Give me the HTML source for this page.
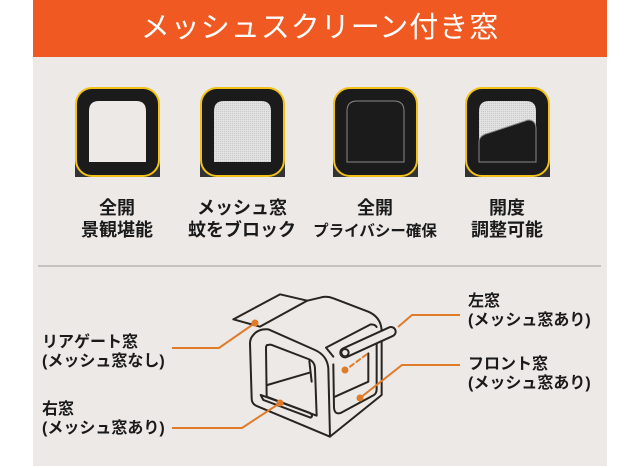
<!DOCTYPE html>
<html><head><meta charset="utf-8"><style>
html,body{margin:0;padding:0;background:#fff;}
body{width:640px;height:468px;position:relative;overflow:hidden;font-family:"Liberation Sans","Noto Sans CJK JP",sans-serif;}
.panel{position:absolute;left:33px;top:0;width:574px;height:466px;background:#ede9e6;}
.hdr{position:absolute;left:33px;top:0;width:574px;height:57px;background:#f05a22;color:#fff;font-size:29px;text-align:center;line-height:57px;letter-spacing:1px;}
.lbl{position:absolute;font-weight:bold;color:#1a1a1a;text-align:center;width:150px;font-size:18px;line-height:22px;}
.t{position:absolute;font-weight:bold;color:#1a1a1a;font-size:16px;line-height:19px;white-space:nowrap;}
</style></head><body>
<div class="panel"></div>
<div class="hdr">メッシュスクリーン付き窓</div>
<svg width="640" height="468" style="position:absolute;left:0;top:0">
<defs>
<pattern id="m" width="2" height="2" patternUnits="userSpaceOnUse"><rect width="2" height="2" fill="#e2e2e2"/><rect width="1" height="1" fill="#c8c8c8"/></pattern>
</defs>
<g transform="translate(75,87)">
<rect x="0" y="70" width="85" height="20" fill="#333"/>
<rect x="1" y="1" width="83" height="88" rx="16" fill="#1b1b1b" stroke="#f2c21a" stroke-width="2"/>
<path d="M14,75 V24 Q14,14 24,14 H61 Q71,14 71,24 V75 Z" fill="#ede9e6"/>
</g>
<g transform="translate(200,87)">
<rect x="0" y="70" width="85" height="20" fill="#333"/>
<rect x="1" y="1" width="83" height="88" rx="16" fill="#1b1b1b" stroke="#f2c21a" stroke-width="2"/>
<path d="M14,75 V24 Q14,14 24,14 H61 Q71,14 71,24 V75 Z" fill="url(#m)"/>
</g>
<g transform="translate(333,87)">
<rect x="0" y="70" width="85" height="20" fill="#333"/>
<rect x="1" y="1" width="83" height="88" rx="16" fill="#1b1b1b" stroke="#f2c21a" stroke-width="2"/>
<path d="M14,75 V24 Q14,14 24,14 H61 Q71,14 71,24 V75 Z" fill="none" stroke="#888" stroke-width="1"/>
</g>
<g transform="translate(465,87)">
<rect x="0" y="70" width="85" height="20" fill="#333"/>
<rect x="1" y="1" width="83" height="88" rx="16" fill="#1b1b1b" stroke="#f2c21a" stroke-width="2"/>
<path d="M14,75 V24 Q14,14 24,14 H61 Q71,14 71,24 V75 Z" fill="url(#m)"/>
<path d="M14,75 V54 Q15,48 24,46 L63,33 Q71,33 71,42 V75 Z" fill="#1b1b1b" stroke="#888" stroke-width="1"/>
</g>
<line x1="38" y1="266" x2="601" y2="266" stroke="#b9b5b2" stroke-width="1.5"/>
<g transform="translate(220,285) scale(0.3333)" fill="none" stroke="#2a2420" stroke-width="6" stroke-linejoin="round" stroke-linecap="round">
<path d="M40,103 L180,28 L262,47 M40,103 L120,125 L262,47" fill="#ede9e6"/>
<path d="M262,47 L300,38 Q320,32 340,40 L445,80 Q482,96 485,135 L485,330 L330,455"/>
<path d="M100,150 Q115,130 145,133 L285,195 Q322,212 325,250 L330,455 L108,362 Q95,355 95,340 L90,175 Q90,160 100,150 Z" fill="#ede9e6"/>
<path d="M145,180 Q138,178 138,190 L140,335 L290,392 L285,252 Q285,230 265,222 L155,180 Q150,178 145,180 Z"/>
<path d="M142,300 L272,262 M268,228 L275,290"/>
<path d="M122,330 L268,383 Q282,392 272,398 L130,345 Z"/>
<path d="M340,238 L342,368 Q344,390 362,384 L462,330 Q470,325 470,312 L470,178"/>
<path d="M445,205 L445,290 L345,335"/>
<path d="M318,188 L452,118 Q466,118 470,126 M318,188 L340,215"/>
<line x1="375" y1="203" x2="513" y2="140" stroke-width="34"/>
<line x1="375" y1="203" x2="513" y2="140" stroke="#ede9e6" stroke-width="22"/>
<circle cx="375" cy="203" r="11"/>
<path d="M390,245 L440,208" stroke="#e07b2a" stroke-dasharray="14,10"/>
</g>
<g fill="none" stroke="#e07b2a" stroke-width="2">
<path d="M172,348 H219 L255,323"/>
<path d="M172,428 H242 L280,403"/>
<path d="M460,315 H412 L398,327"/>
<path d="M460,365 H402 L360,398"/>
</g>
<g fill="#e07b2a">
<circle cx="255" cy="323" r="3.5"/><circle cx="280" cy="403" r="3.5"/>
<circle cx="345" cy="370" r="3.5"/><circle cx="360" cy="398" r="3.5"/>
</g>
</svg>
<div class="lbl" style="left:42px;top:197px">全開<br>景観堪能</div>
<div class="lbl" style="left:167px;top:197px">メッシュ窓<br>蚊をブロック</div>
<div class="lbl" style="left:300px;top:197px">全開<br><span style="font-size:15.5px">プライバシー確保</span></div>
<div class="lbl" style="left:432px;top:197px">開度<br>調整可能</div>
<div class="t" style="left:42px;top:333px">リアゲート窓<br>(メッシュ窓なし)</div>
<div class="t" style="left:42px;top:400px">右窓<br>(メッシュ窓あり)</div>
<div class="t" style="left:468px;top:292px">左窓<br>(メッシュ窓あり)</div>
<div class="t" style="left:468px;top:355px">フロント窓<br>(メッシュ窓あり)</div>
</body></html>
